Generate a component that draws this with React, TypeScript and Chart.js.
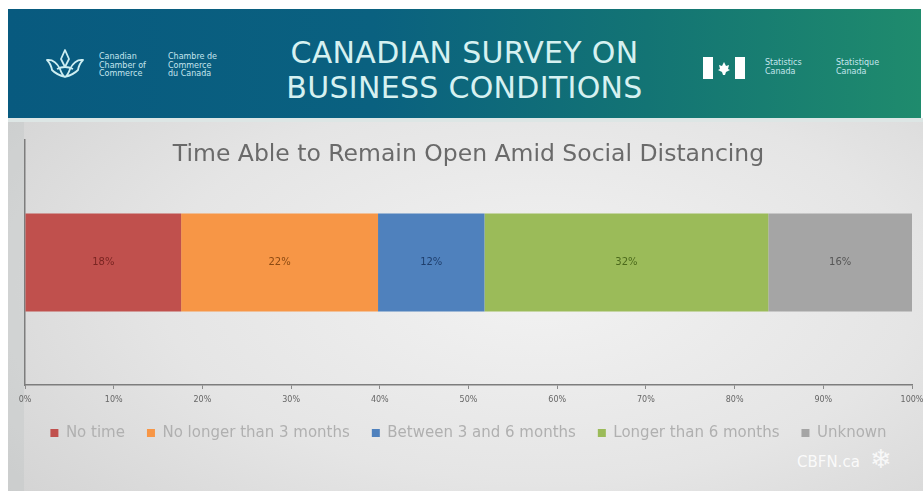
import React, { useEffect, useRef } from "react";
import { Chart, registerables } from "chart.js";

Chart.register(...registerables);

// ---- data ----
const categories = ["Time able to remain open"];
const seriesNames = [
  "No time",
  "No longer than 3 months",
  "Between 3 and 6 months",
  "Longer than 6 months",
  "Unknown",
];
const seriesValues = [17.6, 22.2, 12.0, 32.0, 16.2];
const seriesColors = ["#c0504d", "#f79646", "#4f81bd", "#9bbb59", "#a5a5a5"];
const labelColors = ["#7a2522", "#8c4a12", "#1f3f6d", "#4c6a1c", "#565656"];
const xTickValues = [0, 10, 20, 30, 40, 50, 60, 70, 80, 90, 100];
const chartTitle = "Time Able to Remain Open Amid Social Distancing";
const headerLines = ["CANADIAN SURVEY ON", "BUSINESS CONDITIONS"];

const FONT = '"DejaVu Sans", "Liberation Sans", sans-serif';

const valueLabelPlugin = {
  id: "valueLabels",
  afterDatasetsDraw(chart: any) {
    const ctx = chart.ctx;
    chart.data.datasets.forEach((ds: any, i: number) => {
      const meta = chart.getDatasetMeta(i);
      meta.data.forEach((el: any, j: number) => {
        const v = ds.data[j] as number;
        const cx = (el.x + el.base) / 2;
        ctx.save();
        ctx.font = `10px ${FONT}`;
        ctx.fillStyle = labelColors[i];
        ctx.textAlign = "center";
        ctx.textBaseline = "middle";
        ctx.fillText(`${Math.round(v)}%`, cx, el.y);
        ctx.restore();
      });
    });
  },
};

const innerTitlePlugin = {
  id: "innerTitle",
  afterDraw(chart: any) {
    const { left, right, top } = chart.chartArea;
    const ctx = chart.ctx;
    ctx.save();
    ctx.font = `23.5px ${FONT}`;
    ctx.fillStyle = "#6a6a6a";
    ctx.textAlign = "center";
    ctx.textBaseline = "middle";
    ctx.fillText(chartTitle, (left + right) / 2, top + 15);
    ctx.restore();
  },
};

function BarChart() {
  const ref = useRef<HTMLCanvasElement | null>(null);
  useEffect(() => {
    if (!ref.current) return;
    const chart = new Chart(ref.current, {
      type: "bar",
      data: {
        labels: categories,
        datasets: seriesNames.map((name, i) => ({
          label: name,
          data: [seriesValues[i]],
          backgroundColor: seriesColors[i],
          borderWidth: 0,
          categoryPercentage: 1,
          barPercentage: 0.4,
        })),
      },
      options: {
        indexAxis: "y",
        animation: false,
        responsive: true,
        maintainAspectRatio: false,
        layout: { padding: { left: 17, top: 18, right: 11, bottom: 40.5 } },
        scales: {
          x: {
            stacked: true,
            min: 0,
            max: 100,
            afterBuildTicks: (axis: any) => {
              axis.ticks = xTickValues.map((v) => ({ value: v }));
            },
            afterFit: (axis: any) => {
              axis.height = 18.5;
              axis.paddingRight = 0;
              axis.paddingLeft = 0;
            },
            ticks: {
              callback: (v: any) => `${v}%`,
              font: { size: 8, family: FONT },
              color: "#666666",
              padding: 6,
              maxRotation: 0,
            },
            grid: {
              display: true,
              drawOnChartArea: false,
              drawTicks: true,
              tickLength: 4,
              color: "#8a8a8a",
            },
            border: { display: true, color: "#7d7d7d", width: 1.5 },
          },
          y: {
            stacked: true,
            ticks: { display: false },
            grid: { display: false, drawTicks: false },
            border: { display: true, color: "#7d7d7d", width: 1.5 },
          },
        },
        plugins: {
          title: { display: false },
          tooltip: { enabled: false },
          legend: {
            display: true,
            position: "bottom",
            labels: {
              boxWidth: 8,
              boxHeight: 8,
              padding: 22,
              color: "#b0b0b0",
              font: { size: 15, family: FONT },
            },
          },
        },
      },
      plugins: [valueLabelPlugin, innerTitlePlugin],
    });
    return () => chart.destroy();
  }, []);
  return <canvas ref={ref} />;
}

export default function App() {
  return (
    <div
      style={{
        position: "absolute",
        left: 0,
        top: 0,
        width: 923,
        height: 491,
        overflow: "hidden",
        background: "#ffffff",
        fontFamily: FONT,
      }}
    >
      {/* header banner */}
      <div
        style={{
          position: "absolute",
          left: 8,
          top: 9,
          width: 913,
          height: 109,
          background:
            "linear-gradient(90deg, #085a7f 0%, #0a6180 40%, #137474 70%, #1f8b6d 100%)",
        }}
      >
        <svg
          width={44}
          height={34}
          viewBox="0 0 44 34"
          style={{ position: "absolute", left: 35, top: 38 }}
        >
          <g fill="none" stroke="#cdeef2" strokeWidth={1.8} strokeLinejoin="round">
            <path d="M22 3 L26 12 L22 20 L18 12 Z" />
            <path d="M4 13 Q12 12 17 22 Q19 28 22 30 Q25 28 27 22 Q32 12 40 13 Q36 17 35 23 Q30 28 22 30 Q14 28 9 23 Q8 17 4 13 Z" />
            <path d="M14 22 Q22 18 30 22" />
          </g>
        </svg>
        <div
          style={{
            position: "absolute",
            left: 91,
            top: 44,
            fontSize: 8,
            lineHeight: "8.5px",
            color: "#c6e6ee",
          }}
        >
          Canadian
          <br />
          Chamber of
          <br />
          Commerce
        </div>
        <div
          style={{
            position: "absolute",
            left: 160,
            top: 44,
            fontSize: 8,
            lineHeight: "8.5px",
            color: "#c6e6ee",
          }}
        >
          Chambre de
          <br />
          Commerce
          <br />
          du Canada
        </div>
        <div
          style={{
            position: "absolute",
            left: 0,
            width: 913,
            top: 26,
            textAlign: "center",
            fontSize: 30,
            lineHeight: "35px",
            color: "#d6f1f1",
            letterSpacing: 0.3,
          }}
        >
          {headerLines[0]}
          <br />
          {headerLines[1]}
        </div>
        <svg
          width={42}
          height={22}
          viewBox="0 0 42 22"
          style={{ position: "absolute", left: 695, top: 48 }}
        >
          <rect x={0} y={0} width={10} height={22} fill="#ffffff" />
          <rect x={32} y={0} width={10} height={22} fill="#ffffff" />
          <path
            d="M21 5 L23 9 L26 8 L25 12 L27 13 L23 15 L22 18 L20 18 L19 15 L15 13 L17 12 L16 8 L19 9 Z"
            fill="#ffffff"
          />
        </svg>
        <div
          style={{
            position: "absolute",
            left: 757,
            top: 49,
            fontSize: 8,
            lineHeight: "9px",
            color: "#c6e6ee",
          }}
        >
          Statistics
          <br />
          Canada
        </div>
        <div
          style={{
            position: "absolute",
            left: 828,
            top: 49,
            fontSize: 8,
            lineHeight: "9px",
            color: "#c6e6ee",
          }}
        >
          Statistique
          <br />
          Canada
        </div>
      </div>
      {/* light band */}
      <div
        style={{
          position: "absolute",
          left: 8,
          top: 118,
          width: 915,
          height: 5,
          background: "#dde6e5",
        }}
      />
      {/* chart panel */}
      <div
        style={{
          position: "absolute",
          left: 8,
          top: 122,
          width: 915,
          height: 369,
          background:
            "radial-gradient(ellipse 75% 95% at 58% 45%, #f2f2f2 0%, #e5e5e5 55%, #d2d2d2 100%)",
        }}
      >
        <div
          style={{
            position: "absolute",
            left: 0,
            top: 0,
            width: 16,
            height: 369,
            background: "rgba(185,192,192,0.3)",
          }}
        />
        <div
          style={{
            position: "absolute",
            left: 789,
            top: 331,
            fontSize: 15,
            color: "rgba(255,255,255,0.85)",
          }}
        >
          CBFN.ca
        </div>
        <div
          style={{
            position: "absolute",
            left: 862,
            top: 322,
            fontSize: 26,
            color: "rgba(255,255,255,0.8)",
          }}
        >
          ❄
        </div>
        <div style={{ position: "absolute", left: 0, top: 0, width: 915, height: 369 }}>
          <BarChart />
        </div>
      </div>
    </div>
  );
}
